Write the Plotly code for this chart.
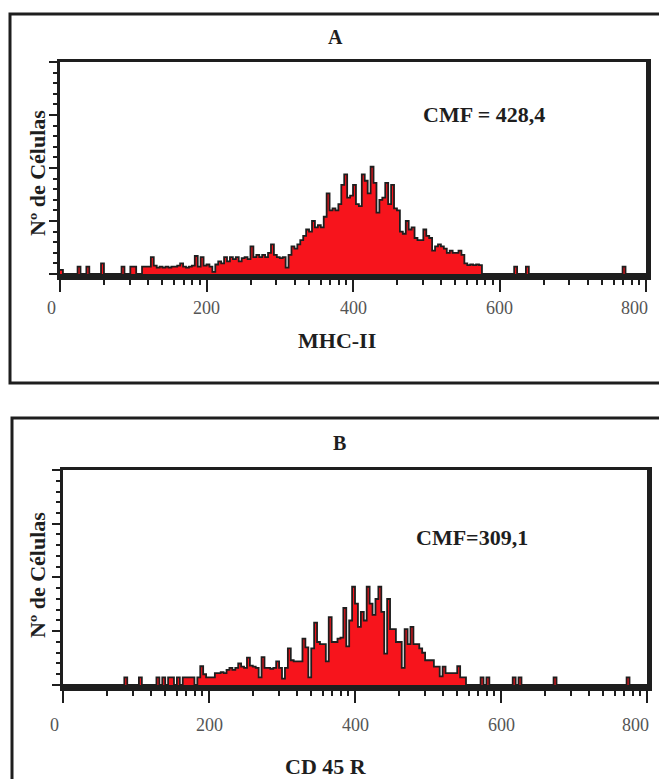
import numpy as np
import plotly.graph_objects as go

# ---------------- data ----------------
bin_width = 4
bin_edges = list(range(0, 800, bin_width))  # 200 channel bins, 0..800

counts_mhc2 = [
    2, 0, 0, 0, 0, 0, 3.5, 0, 0, 3.5,
    0, 0, 0, 0, 5, 0, 0, 0, 0, 0,
    0, 3.5, 0, 0, 3.5, 3.5, 0, 0, 3.5, 3.5,
    3.5, 8, 4, 3, 3.5, 3, 3.5, 3, 3.5, 3.5,
    4, 5, 3.5, 3, 3.5, 4, 8.5, 3.5, 8, 4,
    4.5, 3.5, 1, 4.5, 6, 5, 8, 6, 8, 7,
    8, 6, 7.5, 8, 7, 13, 8, 9, 8, 9,
    8, 10, 14, 9, 8, 7.5, 8, 3, 9, 13,
    12, 14, 16, 18, 21, 20, 25, 22, 23, 22,
    27, 38, 30, 31, 30, 33, 42, 47, 36, 37,
    42, 33, 32, 47, 44, 38, 50.6, 43, 29, 35,
    36, 43, 33, 42, 31, 30, 20, 19, 25, 21,
    22, 17, 16, 16, 21, 18, 17, 11, 13, 14,
    13, 12, 10, 11, 10, 10, 11, 9, 5, 4.2,
    4.5, 4.2, 4.5, 4.2, 0, 0, 0, 0, 0, 0,
    0, 0, 0, 0, 0, 3.5, 0, 0, 0, 3.5,
    0, 0, 0, 0, 0, 0, 0, 0, 0, 0,
    0, 0, 0, 0, 0, 0, 0, 0, 0, 0,
    0, 0, 0, 0, 0, 0, 0, 0, 0, 0,
    0, 0, 3.5, 0, 0, 0, 0, 0, 0, 0,
]

counts_cd45r = [
    0, 0, 0, 0, 0, 0, 0, 0, 0, 0,
    0, 0, 0, 0, 0, 0, 0, 0, 0, 0,
    0, 3.5, 0, 0, 0, 0, 3.5, 0, 0, 0,
    0, 0, 3.5, 0, 3.5, 0, 3.5, 3.5, 0, 3.5,
    0, 3.5, 3.5, 3.5, 3.5, 0, 3.5, 8.7, 5, 3.5,
    3.5, 3.5, 5.5, 5.5, 6, 5.5, 7, 8, 7, 8,
    10, 8.5, 8, 12.7, 9, 8.5, 8, 3.5, 13, 8,
    8, 7.5, 8, 11, 8, 3, 8, 17, 11.5, 11,
    11, 11, 21.6, 17.5, 3.5, 17, 29, 20, 19, 19,
    11, 31.6, 20, 20, 21.6, 22, 35.8, 18, 30, 45.7,
    37.8, 27, 34, 30, 45.7, 37.8, 32.6, 40, 45.7, 34,
    14.6, 40, 26, 26, 20, 20, 8, 26, 19, 27,
    19, 19, 17, 15, 11.5, 11.5, 11.5, 8.5, 8.5, 4,
    8.5, 5.5, 5.5, 5.5, 5.5, 8.7, 3.5, 3.5, 0, 0,
    0, 0, 0, 3.5, 0, 3.5, 0, 0, 0, 0,
    0, 0, 0, 0, 3.5, 0, 3.5, 0, 0, 0,
    0, 0, 0, 0, 0, 0, 0, 0, 3.5, 0,
    0, 0, 0, 0, 0, 0, 0, 0, 0, 0,
    0, 0, 0, 0, 0, 0, 0, 0, 0, 0,
    0, 0, 0, 3.5, 0, 0, 0, 0, 0, 0,
]

x_major_ticks = [0, 200, 400, 600, 800]
x_tick_labels = ["0", "200", "400", "600", "800"]
panel_letters = ["A", "B"]
x_titles = ["MHC-II", "CD 45 R"]
cmf_labels = ["CMF = 428,4", "CMF=309,1"]
y_title = "Nº de Células"

# log-decade minor ticks (4 decades over 0..800 channels)
decade = 200
x_minor_ticks = [decade * k + decade * np.log10(m) for k in range(4) for m in range(2, 10)]

# ---------------- figure ----------------
W, H = 659, 779
RED = "#f7141c"
INK = "#1e1e1e"
SERIF = "Liberation Serif"
X_MAX = 802

def px_x(p):
    return p / W

def px_y(p):
    return 1 - p / H

fig = go.Figure()

for i, counts in enumerate([counts_mhc2, counts_cd45r]):
    xs = bin_edges + [bin_edges[-1] + bin_width]
    ys = counts + [counts[-1]]
    fig.add_trace(go.Scatter(
        x=xs, y=ys, mode="lines", line_shape="hv",
        line=dict(color=INK, width=1.8),
        fill="tozeroy", fillcolor=RED,
        xaxis="x" if i == 0 else "x2",
        yaxis="y" if i == 0 else "y2",
        showlegend=False, hoverinfo="skip",
    ))

def xaxis_cfg(domain):
    return dict(
        domain=domain, range=[0, X_MAX], automargin=False,
        tickmode="array", tickvals=x_major_ticks,
        ticks="outside", ticklen=12, tickwidth=2, tickcolor=INK,
        minor=dict(tickmode="array", tickvals=x_minor_ticks, ticks="outside",
                   ticklen=5, tickwidth=2, tickcolor=INK),
        showticklabels=False,
        showline=True, linewidth=3, linecolor=INK, mirror=True,
        showgrid=False, zeroline=False,
    )

def yaxis_cfg(domain):
    return dict(
        domain=domain, range=[-1.5, 100], automargin=False,
        tickmode="array", tickvals=[0, 25, 50, 75, 100],
        ticks="outside", ticklen=8, tickwidth=2, tickcolor=INK,
        minor=dict(tickmode="linear", tick0=0, dtick=5, ticks="outside",
                   ticklen=4, tickwidth=1.5, tickcolor=INK),
        showticklabels=False,
        showline=True, linewidth=3, linecolor=INK, mirror=True,
        showgrid=False, zeroline=False,
    )

xa = xaxis_cfg([px_x(60), px_x(647.5)]); xa["anchor"] = "y"
xb = xaxis_cfg([px_x(63), px_x(648.5)]); xb["anchor"] = "y2"
ya = yaxis_cfg([px_y(277.2), px_y(62)]); ya["anchor"] = "x"
yb = yaxis_cfg([px_y(688.2), px_y(470)]); yb["anchor"] = "x2"

shapes = []
for xr, yr in [("x", "y"), ("x2", "y2")]:
    # thick black band at zero (histogram baseline)
    shapes.append(dict(type="rect", xref=xr, yref=yr, x0=0, x1=X_MAX, y0=-1.5, y1=0,
                       fillcolor=INK, line=dict(width=0), layer="above"))
# right borders of the plot boxes
for xpix, ytop, ybot in [(647.5, 60.5, 278.7), (648.5, 468.5, 689.7)]:
    shapes.append(dict(type="line", xref="paper", yref="paper",
                       x0=px_x(xpix), x1=px_x(xpix), y0=px_y(ybot), y1=px_y(ytop),
                       line=dict(color=INK, width=3)))
# outer frames of each panel
shapes.append(dict(type="rect", xref="paper", yref="paper",
                   x0=px_x(10), x1=1.05, y0=px_y(383), y1=px_y(14),
                   line=dict(color=INK, width=3)))
shapes.append(dict(type="rect", xref="paper", yref="paper",
                   x0=px_x(12), x1=1.05, y0=-0.05, y1=px_y(418),
                   line=dict(color=INK, width=3)))

bold = dict(family=SERIF, size=22, color=INK, weight="bold")
letter_font = dict(family=SERIF, size=20, color=INK, weight="bold")
tick_font = dict(family=SERIF, size=18, color="#555555")

def label(text, x, y, font, angle=0):
    return dict(text=text, x=px_x(x), y=px_y(y), xref="paper", yref="paper",
                xanchor="center", yanchor="middle", showarrow=False,
                textangle=angle, font=font)

annotations = [
    label(panel_letters[0], 335, 37, letter_font),
    label(panel_letters[1], 339, 443, letter_font),
    label(x_titles[0], 337, 340, bold),
    label(x_titles[1], 326, 766, bold),
    label(y_title, 37, 173, bold, -90),
    label(y_title, 37, 575, bold, -90),
    label(cmf_labels[0], 484, 115, bold),
    label(cmf_labels[1], 472, 537, bold),
]

# x tick labels, placed at their tick values
for xr, ylab in [("x", 308), ("x2", 725)]:
    for v, t in zip(x_major_ticks, x_tick_labels):
        anchor, shift = "center", 0
        if v == x_major_ticks[0]:
            shift = -9
        elif v == x_major_ticks[-1]:
            anchor, shift = "right", 4
        annotations.append(dict(text=t, x=v, y=px_y(ylab), xref=xr, yref="paper",
                                xanchor=anchor, yanchor="middle", xshift=shift,
                                showarrow=False, font=tick_font))

fig.update_layout(
    width=W, height=H,
    margin=dict(l=0, r=0, t=0, b=0, autoexpand=False),
    paper_bgcolor="white", plot_bgcolor="white",
    xaxis=xa, xaxis2=xb, yaxis=ya, yaxis2=yb,
    shapes=shapes, annotations=annotations,
    showlegend=False,
)

fig.write_html(
    "out.html",
    config={"displayModeBar": False},
    post_script=(
        "document.body.style.margin='0px';"
        "document.body.style.overflow='hidden';"
        "document.documentElement.style.overflow='hidden';"
    ),
)
